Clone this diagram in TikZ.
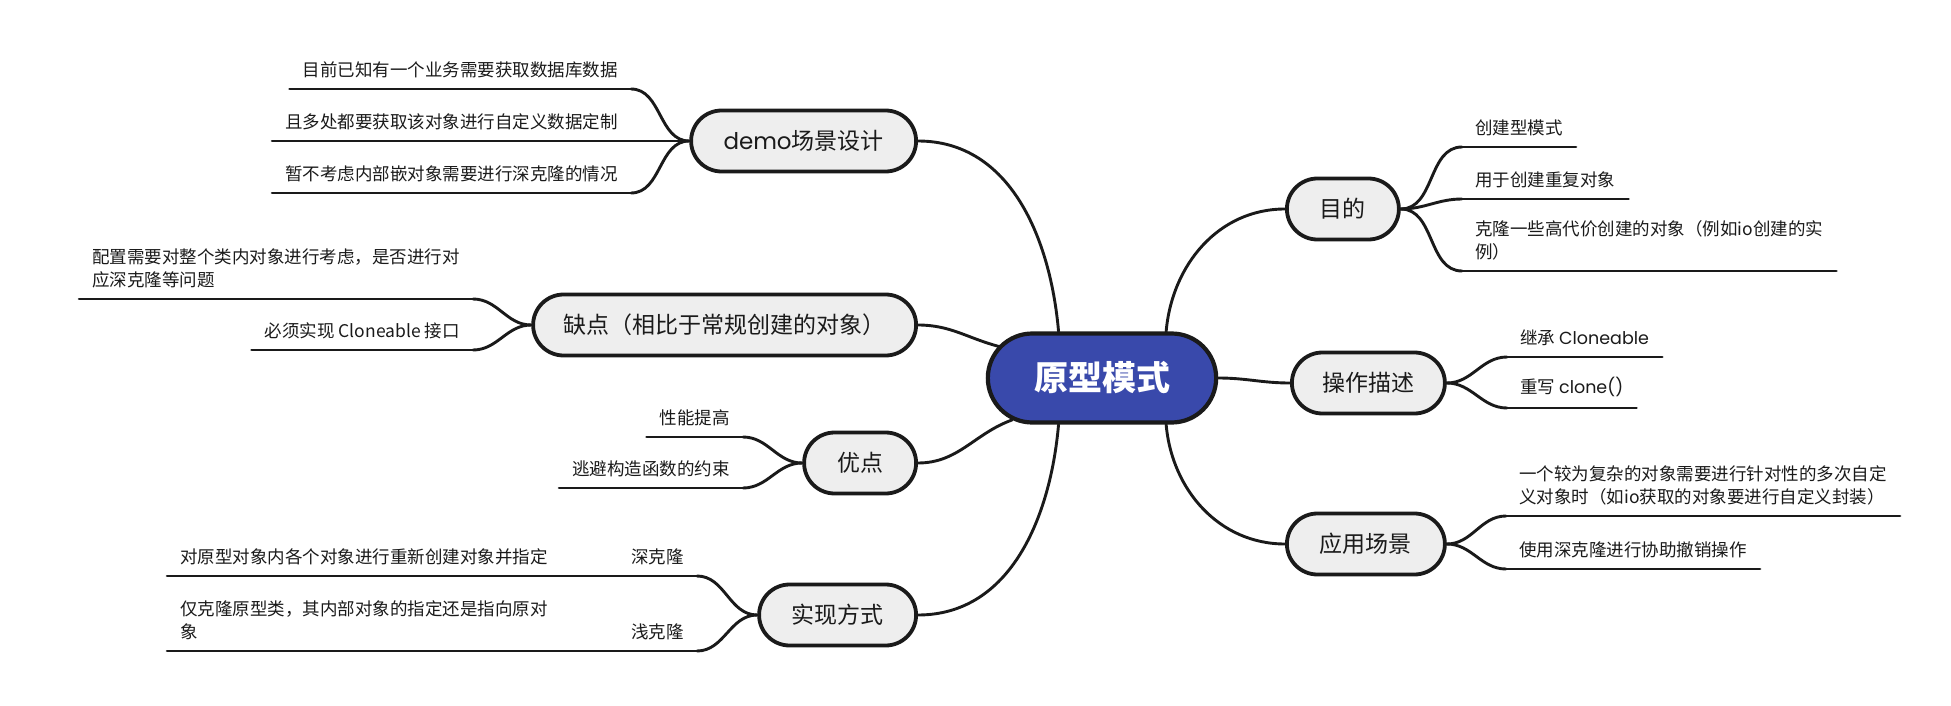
\documentclass[tikz,border=0pt]{standalone}
\usepackage{fontspec}
\setmainfont{Noto Sans CJK SC}
\newfontfamily\latinfont{Poppins}
\usetikzlibrary{shapes.misc}
\definecolor{rootblue}{HTML}{3949AB}
\definecolor{branchgray}{HTML}{EEEEEE}
\definecolor{ink}{HTML}{1A1A1A}
\newcommand{\lat}[1]{{\latinfont #1}}

\tikzset{
  root/.style={rounded rectangle, draw=ink, line width=4.2pt, fill=rootblue, text=white,
    font=\fontsize{34}{40}\selectfont\bfseries, minimum width=235pt, minimum height=89pt},
  branch/.style={rounded rectangle, draw=ink, line width=3.8pt, fill=branchgray, text=ink,
    font=\fontsize{23}{28}\selectfont, minimum height=61pt, inner xsep=0pt},
  leaf/.style={text=ink, font=\fontsize{17.5}{23}\selectfont, inner xsep=13pt, inner ysep=11pt},
  leafl/.style={leaf, anchor=south east, align=right},
  leafr/.style={leaf, anchor=south west, align=left},
  wire/.style={draw=ink, line width=2.9pt, line cap=round},
}

\begin{document}
\begin{tikzpicture}[x=1pt, y=1pt]
\useasboundingbox (0,0) rectangle (1951,-706);

% center
\node[root] (root) at (1102,-378) {原型模式};

% left branches
\node[branch, minimum width=225pt, anchor=east] (demo) at (918,-141) {\lat{demo}场景设计};
\node[branch, minimum width=383pt, anchor=east] (que) at (918,-325) {缺点（相比于常规创建的对象）};
\node[branch, minimum width=112pt, anchor=east] (you) at (918,-463) {优点};
\node[branch, minimum width=157pt, anchor=east] (shixian) at (918,-615) {实现方式};

% right branches
\node[branch, minimum width=112pt, anchor=west] (mudi) at (1285,-209) {目的};
\node[branch, minimum width=153pt, anchor=west] (caozuo) at (1290,-383) {操作描述};
\node[branch, minimum width=158pt, anchor=west] (yingyong) at (1285,-544) {应用场景};

\draw[wire] (root.133) to[out=95,in=0] (demo.east);
\draw[wire] (root.163) to[out=165,in=0] (que.east);
\draw[wire] (root.205) to[out=200,in=0] (you.east);
\draw[wire] (root.-133) to[out=-95,in=0] (shixian.east);
\draw[wire] (root.36) to[out=85,in=180] (mudi.west);
\draw[wire] (root.east) to[out=0,in=180] (caozuo.west);
\draw[wire] (root.-36) to[out=-85,in=180] (yingyong.west);

% leaves, left
\node[leafl] (d1) at (631,-89) {目前已知有一个业务需要获取数据库数据};
\node[leafl] (d2) at (631,-141) {且多处都要获取该对象进行自定义数据定制};
\node[leafl] (d3) at (631,-193) {暂不考虑内部嵌对象需要进行深克隆的情况};
\node[leafl, align=left] (k1) at (473,-299) {配置需要对整个类内对象进行考虑，是否进行对\\应深克隆等问题};
\node[leafl] (k2) at (473,-350) {必须实现 Cloneable 接口};
\node[leafl] (y1) at (743,-437) {性能提高};
\node[leafl] (y2) at (743,-488) {逃避构造函数的约束};
\node[leafl] (shen) at (697,-576) {深克隆};
\node[leafl] (qian) at (697,-651) {浅克隆};
\node[leafl, align=left] (s1) at (561,-576) {对原型对象内各个对象进行重新创建对象并指定};
\node[leafl, align=left] (s2) at (561,-651) {仅克隆原型类，其内部对象的指定还是指向原对\\象};

% leaves, right
\node[leafr] (m1) at (1462,-147) {创建型模式};
\node[leafr] (m2) at (1462,-199) {用于创建重复对象};
\node[leafr] (m3) at (1462,-271) {克隆一些高代价创建的对象（例如io创建的实\\例）};
\node[leafr] (c1) at (1507,-357) {继承 \lat{Cloneable}};
\node[leafr] (c2) at (1507,-408) {重写 \lat{clone()}};
\node[leafr] (a1) at (1506,-516) {一个较为复杂的对象需要进行针对性的多次自定\\义对象时（如io获取的对象要进行自定义封装）};
\node[leafr] (a2) at (1506,-569) {使用深克隆进行协助撤销操作};

% underlines
\foreach \n in {d1,d2,d3,k1,k2,y1,y2,shen,qian,s1,s2,m1,m2,m3,c1,c2,a1,a2}
  \draw[wire] (\n.south west) -- (\n.south east);

\foreach \n in {d1,d2,d3} \draw[wire] (demo.west) to[out=180,in=0] (\n.south east);
\foreach \n in {k1,k2} \draw[wire] (que.west) to[out=180,in=0] (\n.south east);
\foreach \n in {y1,y2} \draw[wire] (you.west) to[out=180,in=0] (\n.south east);
\foreach \n in {shen,qian} \draw[wire] (shixian.west) to[out=180,in=0] (\n.south east);
\draw[wire] (shen.south west) -- (s1.south east);
\draw[wire] (qian.south west) -- (s2.south east);
\foreach \n in {m1,m2,m3} \draw[wire] (mudi.east) to[out=0,in=180] (\n.south west);
\foreach \n in {c1,c2} \draw[wire] (caozuo.east) to[out=0,in=180] (\n.south west);
\foreach \n in {a1,a2} \draw[wire] (yingyong.east) to[out=0,in=180] (\n.south west);
\end{tikzpicture}
\end{document}
